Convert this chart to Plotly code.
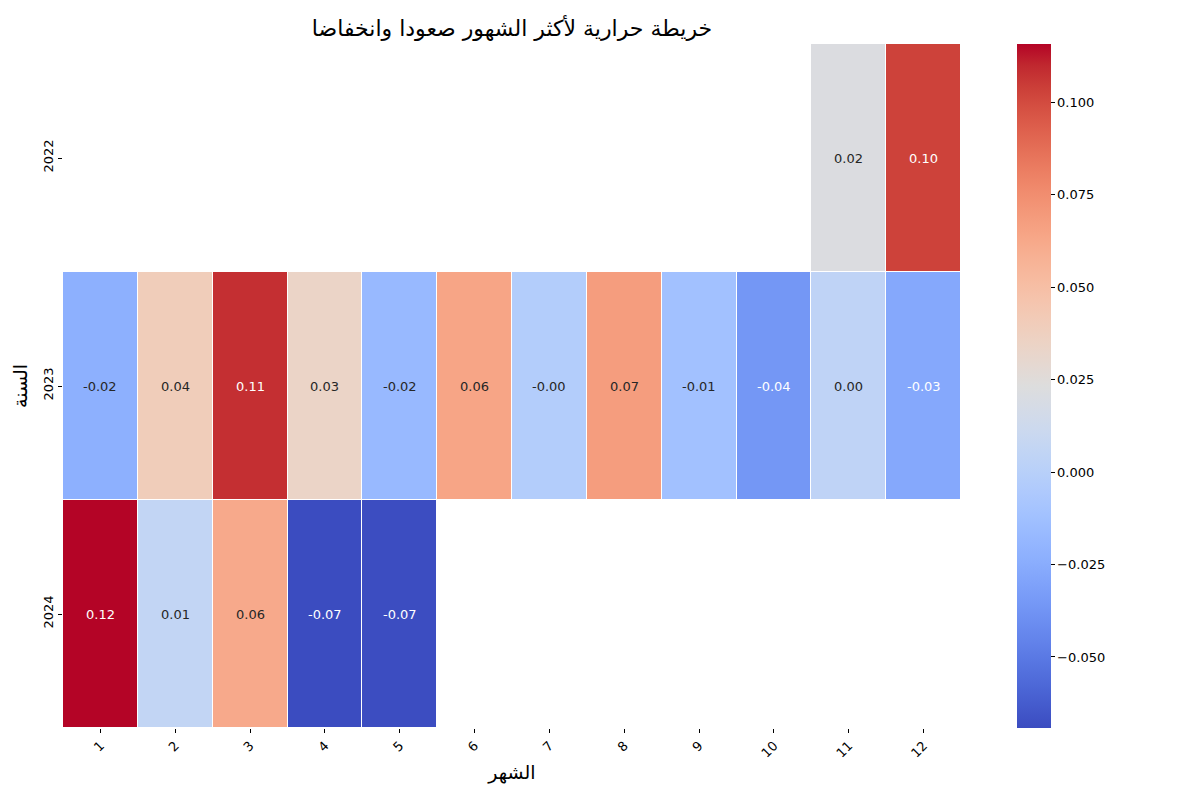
import plotly.graph_objects as go

months = [str(m) for m in range(1, 13)]
years = ["2022", "2023", "2024"]
nan = None
vals_2022 = [nan, nan, nan, nan, nan, nan, nan, nan, nan, nan, 0.0215, 0.103]
vals_2023 = [-0.023, 0.040, 0.108, 0.034, -0.017, 0.064, -0.0026, 0.068, -0.012, -0.036, 0.004, -0.027]
vals_2024 = [0.1157, 0.006, 0.062, -0.0692, -0.0688, nan, nan, nan, nan, nan, nan, nan]
z = [vals_2022, vals_2023, vals_2024]

cbar_ticks = [-0.05, -0.025, 0.0, 0.025, 0.05, 0.075, 0.1]
cbar_text = [f"{t:.3f}".replace("-", "\u2212") for t in cbar_ticks]

coolwarm = [
    (59, 76, 192), (68, 90, 204), (77, 104, 215), (87, 117, 225), (98, 130, 234),
    (108, 142, 241), (119, 154, 247), (130, 165, 251), (141, 176, 254), (152, 185, 255),
    (163, 194, 255), (174, 201, 253), (184, 208, 249), (194, 213, 244), (204, 217, 238),
    (213, 219, 230), (221, 221, 221), (229, 216, 209), (236, 211, 197), (241, 204, 185),
    (245, 196, 173), (247, 187, 160), (247, 177, 148), (247, 166, 135), (244, 154, 123),
    (241, 141, 111), (236, 127, 99), (229, 112, 88), (222, 96, 77), (213, 80, 66),
    (203, 62, 56), (192, 40, 47), (180, 4, 38),
]
n = len(coolwarm) - 1
colorscale = [[i / n, f"rgb({r},{g},{b})"] for i, (r, g, b) in enumerate(coolwarm)]

flat = [v for row in z for v in row if v is not None]
zmin, zmax = min(flat), max(flat)

xi_idx = list(range(len(months)))
yi_idx = list(range(len(years)))

font = "DejaVu Sans"
fig = go.Figure()
fig.add_trace(go.Heatmap(
    z=z, x=xi_idx, y=yi_idx, colorscale=colorscale, zmin=zmin, zmax=zmax,
    xgap=1, ygap=1, hoverongaps=False,
    colorbar=dict(
        x=(1017 - 63) / 898, xanchor="left", xref="paper", y=0.5, yanchor="middle",
        yref="paper", len=1, lenmode="fraction", xpad=0, ypad=0,
        thickness=34, outlinewidth=0, tickvals=cbar_ticks, ticktext=cbar_text,
        ticks="outside", ticklen=4, tickcolor="black",
        tickfont=dict(family=font, size=13, color="black"),
    ),
))


def lum(c):
    def ch(x):
        x = x / 255
        return x / 12.92 if x <= 0.03928 else ((x + 0.055) / 1.055) ** 2.4
    return 0.2126 * ch(c[0]) + 0.7152 * ch(c[1]) + 0.0722 * ch(c[2])


def color_at(v):
    t = (v - zmin) / (zmax - zmin) * n
    i = min(int(t), n - 1)
    f = t - i
    a, b = coolwarm[i], coolwarm[i + 1]
    return tuple(a[k] + (b[k] - a[k]) * f for k in range(3))


annotations = []
for j, row in enumerate(z):
    for i, v in enumerate(row):
        if v is None:
            continue
        tc = "white" if lum(color_at(v)) < 0.408 else "#262626"
        annotations.append(dict(
            x=xi_idx[i], y=yi_idx[j], xref="x", yref="y", text=f"{v:.2f}", showarrow=False,
            font=dict(family=font, size=13, color=tc),
        ))

fig.update_layout(
    width=1200, height=800,
    margin=dict(l=55, r=247, t=36, b=80, autoexpand=False),
    plot_bgcolor="white", paper_bgcolor="white",
    font=dict(family=font, color="black"),
    title=dict(text="خريطة حرارية لأكثر الشهور صعودا وانخفاضا", x=0.5, xref="paper",
               y=1 - 20 / 800, yanchor="middle", yref="container",
               font=dict(family=font, size=22, color="black")),
    xaxis=dict(tickmode="array", tickvals=xi_idx, ticktext=months, range=[-0.5, len(months) - 0.5],
               title=dict(text="الشهر", font=dict(size=19), standoff=6),
               tickangle=-45, ticks="outside", ticklen=4, tickcolor="black",
               tickfont=dict(size=13), showgrid=False, zeroline=False, showline=False),
    yaxis=dict(tickmode="array", tickvals=yi_idx, ticktext=years, range=[len(years) - 0.5, -0.5],
               title=dict(text="السنة", font=dict(size=19), standoff=8),
               tickangle=-90, ticks="outside", ticklen=4, tickcolor="black",
               tickfont=dict(size=13), showgrid=False, zeroline=False, showline=False),
    annotations=annotations,
)

fig.write_html("out.html")
